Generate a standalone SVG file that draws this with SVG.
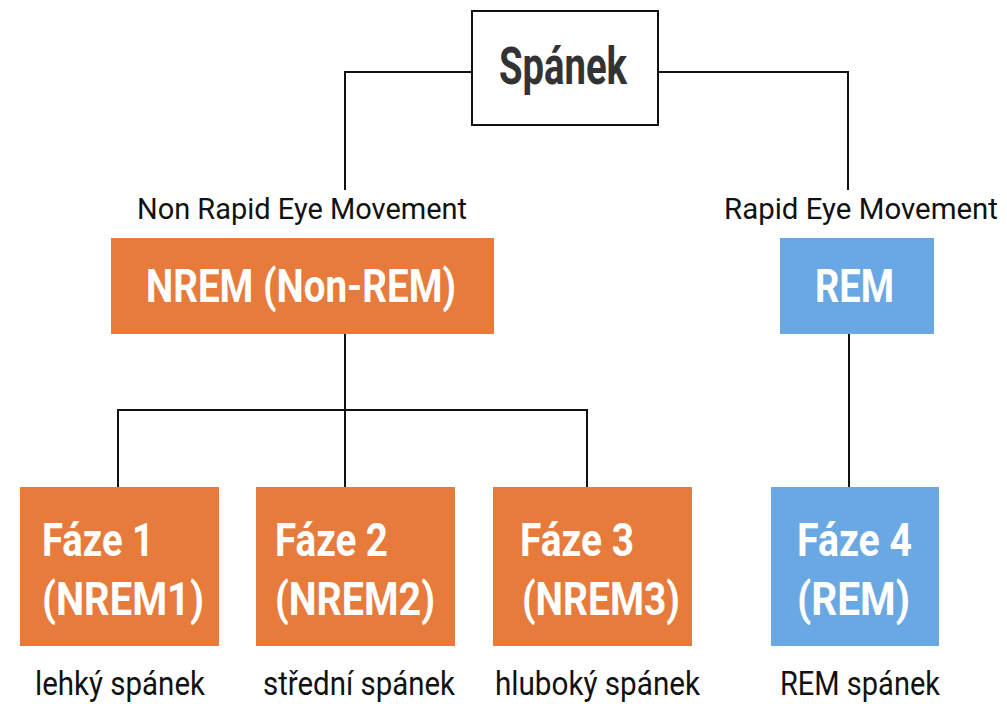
<svg xmlns="http://www.w3.org/2000/svg" width="1007" height="704" viewBox="0 0 1007 704">
<style>
.conn{fill:none;stroke:#111;stroke-width:2}
.or{fill:#E77B3C}
.bl{fill:#69A8E2}
.bt{font-family:Roboto,"Liberation Sans",sans-serif;font-weight:bold;fill:#fff;font-size:47px}
.lb{font-family:Roboto,"Liberation Sans",sans-serif;fill:#111;font-size:29px}
.lb2{font-family:Roboto,"Liberation Sans",sans-serif;fill:#111;font-size:34px}
</style>
<rect width="1007" height="704" fill="#fff"/>
<g id="connectors">
<path class="conn" d="M472 72H345V190"/>
<path class="conn" d="M658 72H848V190"/>
<path class="conn" d="M345 334V410M118 487V410H587V487M345 410V487"/>
<path class="conn" d="M849 334V487"/>
</g>
<g id="spanek">
<rect x="472" y="11" width="186" height="114" fill="#fff" stroke="#111" stroke-width="2"/>
<text x="499" y="84" font-family="Roboto,'Liberation Sans',sans-serif" font-weight="bold" font-size="51" fill="#333" textLength="128" lengthAdjust="spacingAndGlyphs">Spánek</text>
</g>
<g id="nrem">
<text class="lb" x="137" y="219" textLength="330" lengthAdjust="spacingAndGlyphs">Non Rapid Eye Movement</text>
<rect class="or" x="111" y="238" width="383" height="96"/>
<text class="bt" x="146" y="302" font-size="51" textLength="310" lengthAdjust="spacingAndGlyphs">NREM (Non-REM)</text>
</g>
<g id="rem">
<text class="lb" x="724" y="219" textLength="274" lengthAdjust="spacingAndGlyphs">Rapid Eye Movement</text>
<rect class="bl" x="780" y="238" width="154" height="96"/>
<text class="bt" x="815" y="302" font-size="51" textLength="79" lengthAdjust="spacingAndGlyphs">REM</text>
</g>
<g id="faze1">
<rect class="or" x="20" y="487" width="199" height="159"/>
<text class="bt" x="42" y="556" textLength="112" lengthAdjust="spacingAndGlyphs">Fáze 1</text>
<text class="bt" x="42" y="615" textLength="162" lengthAdjust="spacingAndGlyphs">(NREM1)</text>
<text class="lb2" x="35" y="695" textLength="170" lengthAdjust="spacingAndGlyphs">lehký spánek</text>
</g>
<g id="faze2">
<rect class="or" x="256" y="487" width="199" height="159"/>
<text class="bt" x="275" y="556" textLength="113" lengthAdjust="spacingAndGlyphs">Fáze 2</text>
<text class="bt" x="275" y="615" textLength="160" lengthAdjust="spacingAndGlyphs">(NREM2)</text>
<text class="lb2" x="263" y="695" textLength="192" lengthAdjust="spacingAndGlyphs">střední spánek</text>
</g>
<g id="faze3">
<rect class="or" x="493" y="487" width="199" height="159"/>
<text class="bt" x="520" y="556" textLength="114" lengthAdjust="spacingAndGlyphs">Fáze 3</text>
<text class="bt" x="522" y="615" textLength="158" lengthAdjust="spacingAndGlyphs">(NREM3)</text>
<text class="lb2" x="495" y="695" textLength="205" lengthAdjust="spacingAndGlyphs">hluboký spánek</text>
</g>
<g id="faze4">
<rect class="bl" x="771" y="487" width="168" height="159"/>
<text class="bt" x="797" y="556" textLength="115" lengthAdjust="spacingAndGlyphs">Fáze 4</text>
<text class="bt" x="797" y="615" textLength="113" lengthAdjust="spacingAndGlyphs">(REM)</text>
<text class="lb2" x="780" y="695" textLength="160" lengthAdjust="spacingAndGlyphs">REM spánek</text>
</g>
</svg>
